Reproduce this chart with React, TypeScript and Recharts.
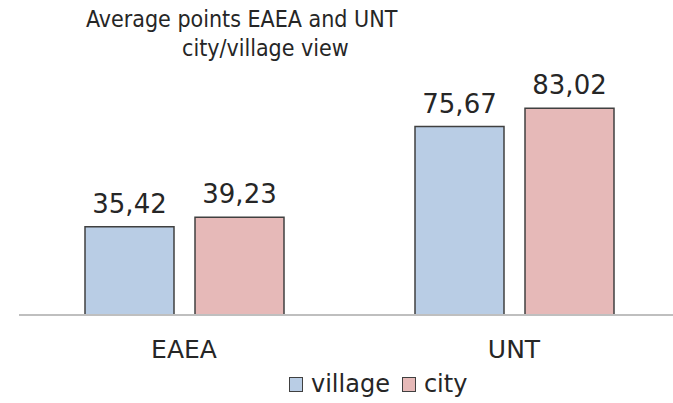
import { BarChart, Bar, XAxis, YAxis, LabelList } from "recharts"

const categories = ["EAEA", "UNT"]
const village = [35.42, 75.67]
const city = [39.23, 83.02]

const FONT = "'DejaVu Sans', Verdana, sans-serif"
const TITLE_FONT = "'DejaVu Sans Condensed', 'DejaVu Sans', sans-serif"
const TEXT = "#262626"
const BORDER = "#404040"
const VILLAGE_FILL = "#b9cde5"
const CITY_FILL = "#e6b9b8"

const series = [
	{ key: "village", name: "village", fill: VILLAGE_FILL },
	{ key: "city", name: "city", fill: CITY_FILL },
]

const data = categories.map((name, i) => ({ name, village: village[i], city: city[i] }))

// decimal comma, as in the source
const fmt = (v: unknown) => Number(v).toFixed(2).replace(".", ",")

export default function App() {
	return (
		<div
			style={{
				position: "absolute",
				left: 0,
				top: 0,
				width: 673,
				height: 403,
				overflow: "hidden",
				background: "#fff",
				fontFamily: FONT,
				color: TEXT,
			}}
		>
			<div
				style={{
					position: "absolute",
					left: 86,
					top: 6,
					fontSize: 23,
					fontFamily: TITLE_FONT,
					whiteSpace: "nowrap",
				}}
			>
				Average points EAEA and UNT
			</div>
			<div
				style={{
					position: "absolute",
					left: 182,
					top: 35,
					fontSize: 23,
					fontFamily: TITLE_FONT,
					whiteSpace: "nowrap",
				}}
			>
				city/village view
			</div>
			<div style={{ position: "absolute", left: 0, top: 0 }}>
				<BarChart
					width={690}
					height={403}
					data={data}
					margin={{ top: 66, right: 11, bottom: 28, left: 19 }}
					barCategoryGap="20%"
					barGap={21}
				>
					<XAxis
						dataKey="name"
						height={60}
						tickLine={false}
						tickSize={0}
						tickMargin={25}
						axisLine={{ stroke: "#bfbfbf", strokeWidth: 2 }}
						tick={{ fill: TEXT, fontSize: 25, fontFamily: FONT }}
					/>
					<YAxis hide domain={[0, 100]} />
					{series.map((s) => (
						<Bar
							key={s.key}
							dataKey={s.key}
							name={s.name}
							fill={s.fill}
							stroke={BORDER}
							strokeWidth={1.5}
							isAnimationActive={false}
						>
							<LabelList
								dataKey={s.key}
								position="top"
								offset={14}
								formatter={fmt}
								style={{ fill: TEXT, fontSize: 26, fontFamily: FONT }}
							/>
						</Bar>
					))}
				</BarChart>
			</div>
			<div
				style={{
					position: "absolute",
					left: 289,
					top: 370,
					display: "flex",
					alignItems: "center",
					fontSize: 24,
					whiteSpace: "nowrap",
				}}
			>
				{series.map((s) => (
					<span key={s.key} style={{ display: "flex", alignItems: "center", marginRight: 12 }}>
						<span
							style={{
								display: "inline-block",
								width: 12,
								height: 13,
								background: s.fill,
								border: `1px solid ${BORDER}`,
								marginRight: 8,
							}}
						/>
						{s.name}
					</span>
				))}
			</div>
		</div>
	)
}
